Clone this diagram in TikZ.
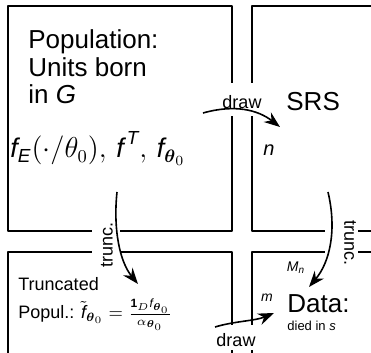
\documentclass[tikz,border=0pt]{standalone}
\usepackage{amsmath}
\usepackage{fontspec}
\setmainfont{Liberation Sans}
\usetikzlibrary{arrows.meta}

\newcommand{\vf}{\textit{f}}
\newcommand{\vt}{\boldsymbol{\theta}}

\tikzset{
  box/.style={line width=1pt, line join=round},
  flow/.style={line width=0.8pt, -{Stealth[length=8pt,width=6pt]}},
  gap/.style={fill=white},
  big/.style={font=\fontsize{13}{13.8}\selectfont, inner sep=0pt},
  tag/.style={font=\fontsize{9}{10}\selectfont, inner sep=0pt},
  small/.style={font=\fontsize{7}{8}\selectfont, inner sep=0pt},
}

\begin{document}
\begin{tikzpicture}[x=0.5pt,y=-0.5pt]
 \useasboundingbox (0,0) rectangle (371,353);
 \clip (0,0) rectangle (371,353);

 % the four regions
 \draw[box] (8,6) rectangle (232,231);
 \draw[box] (252,6) rectangle (400,231);
 \draw[box] (8,252) rectangle (232,400);
 \draw[box] (252,252) rectangle (400,400);

 % openings where the arrows pass
 \fill[gap] (226,83) rectangle (258,116);
 \fill[gap] (226,325) rectangle (258,350);
 \fill[gap] (92,225) rectangle (120,258);
 \fill[gap] (325,225) rectangle (358,258);

 % texts
 \node[big, anchor=base west, align=left] (pop) at (28,104) {Population:\\Units born\\in \textit{G}};
 \node[font=\fontsize{13.5}{15}\selectfont, inner sep=0pt, anchor=base west] (dens) at (10,158) {$\vf_{\textit{E}}(\cdot/\theta_0),\, \vf^{\,\textit{T}},\, \vf_{\vt_0}$};
 \node[big, anchor=base west] (srs) at (286,111) {SRS};
 \node[font=\fontsize{10}{12}\selectfont, inner sep=0pt, anchor=base west] (n) at (263,156) {\textit{n}};

 \node[tag, anchor=base west] (trpop) at (18,291) {Truncated};
 \node[tag, anchor=base west] (trdens) at (18,319) {Popul.: $\tilde{\vf}_{\vt_0} = \frac{\mathbf{1}_D \vf_{\vt_0}}{\alpha_{\vt_0}}$};

 \node[big, anchor=base west] (data) at (287,313) {Data:};
 \node[font=\fontsize{6.5}{8}\selectfont, inner sep=0pt, anchor=base west] (died) at (287,331) {died in \textit{s}};
 \node[small] (m) at (267,298) {\textit{m}};
 \node[small] (Mn) at (296,268) {$\textit{M}_{\textit{n}}$};

 % arrow labels
 \node[tag] (draw1) at (242,102) {draw};
 \node[tag, rotate=90] (trunc1) at (107,245) {trunc.};
 \node[tag, rotate=-90] (trunc2) at (350,243) {trunc.};
 \node[tag] (draw2) at (236,340) {draw};

 % arrows
 \coordinate (d1a) at (203,113);
 \coordinate (d1b) at (280,127);
 \coordinate (t1a) at (117,192);
 \coordinate (t1b) at (138,284);
 \coordinate (t2a) at (328,192);
 \coordinate (t2b) at (309,287);
 \coordinate (d2a) at (215,327);
 \coordinate (d2b) at (274,313);

 \draw[flow] (d1a) .. controls (235,104) and (258,110) .. (d1b);
 \draw[flow] (t1a) .. controls (113,230) and (120,262) .. (t1b);
 \draw[flow] (t2a) .. controls (337,230) and (330,262) .. (t2b);
 \draw[flow] (d2a) .. controls (235,321) and (255,321) .. (d2b);

\end{tikzpicture}
\end{document}
